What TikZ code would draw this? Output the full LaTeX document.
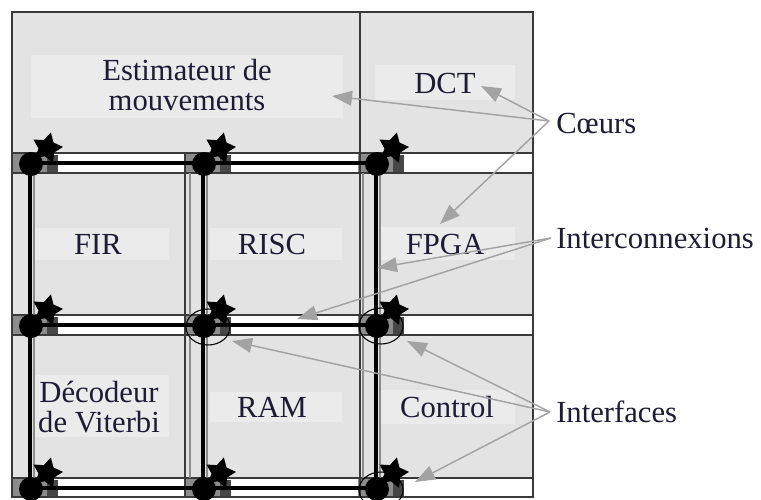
\documentclass[tikz,border=0pt]{standalone}
\usepackage{fontspec}
\setmainfont{Liberation Serif}
\usetikzlibrary{arrows.meta,calc}

\definecolor{cellgray}{HTML}{E3E3E3}
\definecolor{tagfill}{HTML}{EBEBEB}
\definecolor{pad}{HTML}{8C8C8C}
\definecolor{paddark}{HTML}{474747}
\definecolor{arrowgray}{HTML}{A3A3A3}
\definecolor{rule}{HTML}{3A3A3A}
\definecolor{ink}{HTML}{1C1C34}

\begin{document}
\begin{tikzpicture}[x=0.75pt,y=-0.75pt,
  thinln/.style={draw=rule, line width=1.1pt},
  faintln/.style={draw=black!45, line width=0.8pt},
  bus/.style={draw=black, line width=2.9pt},
  lbl/.style={font=\fontsize{23}{22}\selectfont, text=ink, inner sep=0pt},
  tagbox/.style={fill=tagfill, draw=none},
  pointer/.style={draw=arrowgray, line width=1.1pt, -{Triangle[length=15pt,width=11pt]}},
  halo/.style={draw=black, line width=0.8pt},
]
\useasboundingbox (0,0) rectangle (761,500);

% chip area and routing channels
\fill[cellgray] (12,12) rectangle (533,497);
\foreach \y in {163,325,488} {
  \fill[white] (12,\y-10) rectangle (533,\y+10);
}

% light label backgrounds of the cores
\fill[tagbox] (31,55) rectangle (343,118);
\fill[tagbox] (375,65) rectangle (515,100);
\fill[tagbox] (35,228) rectangle (169,260);
\fill[tagbox] (210,228) rectangle (342,260);
\fill[tagbox] (380,227) rectangle (515,260);
\fill[tagbox] (35,375) rectangle (169,437);
\fill[tagbox] (210,392) rectangle (342,422);
\fill[tagbox] (380,390) rectangle (515,424);

% interface points of the mesh
\foreach \c/\x in {1/30,2/203,3/376} {
  \foreach \r/\y in {1/163,2/325,3/488} {
    \coordinate (n\r\c) at (\x,\y);
    \fill[pad] (\x-18,\y-10) rectangle (\x+17,\y+10);
    \fill[paddark] (\x+17,\y-8) rectangle (\x+28,\y+9);
  }
}

% cell outlines
\draw[thinln] (12,12) rectangle (533,497);
\foreach \y in {153,173,315,335,478} {
  \draw[thinln] (12,\y) -- (533,\y);
}
\draw[thinln] (185,153) -- (185,497);
\draw[thinln] (360,12) -- (360,497);
\foreach \x in {190,363} {
  \draw[faintln] (\x,173) -- (\x,315);
  \draw[faintln] (\x,335) -- (\x,478);
}
\foreach \x in {34,207,380} {
  \draw[faintln] (\x,173) -- (\x,315);
  \draw[faintln] (\x,335) -- (\x,478);
}

% interconnect wires
\foreach \r in {1,2,3} {
  \draw[bus] (n\r1) -- (n\r3);
}
\foreach \c in {1,2,3} {
  \draw[bus] (n1\c) -- (n3\c);
}

% interface symbols: a disc and a five-pointed star
\foreach \r in {1,2,3} {
  \foreach \c in {1,2,3} {
    \fill[black] ($(n\r\c)+(1,1)$) circle[radius=12];
    \coordinate (s\r\c) at ($(n\r\c)+(17,-15)$);
    \fill[black, shift={(s\r\c)}]
      plot[samples at={0,...,9}, variable=\k]
        ({(mod(\k,2)==0 ? 16 : 8.5)*cos(-90+36*\k+14)},
         {(mod(\k,2)==0 ? 16 : 8.5)*sin(-90+36*\k+14)}) -- cycle;
  }
}

% highlighted interfaces
\draw[halo] ($(n22)+(5,2)$) ellipse[x radius=22, y radius=18];
\draw[halo] ($(n23)+(5,1)$) ellipse[x radius=22, y radius=18];
\draw[halo] ($(n33)+(5,2)$) ellipse[x radius=22, y radius=18];

% core names
\node[lbl, align=center] (est) at (187,85) {Estimateur de\\mouvements};
\node[lbl] (dct) at (445,83) {DCT};
\node[lbl] (fir) at (98,244) {FIR};
\node[lbl] (risc) at (272,244) {RISC};
\node[lbl] (fpga) at (445,244) {FPGA};
\node[lbl, align=center] (vit) at (99,407) {Décodeur\\de Viterbi};
\node[lbl] (ram) at (272,407) {RAM};
\node[lbl] (ctl) at (447,407) {Control};

% legend
\node[lbl, anchor=west] (coeurs) at (556,123) {Cœurs};
\node[lbl, anchor=west] (inter) at (556,238) {Interconnexions};
\node[lbl, anchor=west] (ifc) at (556,412) {Interfaces};

\coordinate (cfrom) at ($(coeurs.west)+(-7,-2)$);
\coordinate (ifrom) at ($(inter.west)+(-5,0)$);
\coordinate (ffrom) at ($(ifc.west)+(-6,0)$);

\coordinate (tEst) at (332,96);
\coordinate (tDct) at (481,86);
\coordinate (tFpga) at (440,224);
\coordinate (tVbus) at (377,268);
\coordinate (tHbus) at (297,319);
\coordinate (tI22) at (232,341);
\coordinate (tI23) at (407,341);
\coordinate (tI33) at (415,482);

\draw[pointer] (cfrom) -- (tEst);
\draw[pointer] (cfrom) -- (tDct);
\draw[pointer] (cfrom) -- (tFpga);
\draw[pointer] (ifrom) -- (tVbus);
\draw[pointer] (ifrom) -- (tHbus);
\draw[pointer] (ffrom) -- (tI22);
\draw[pointer] (ffrom) -- (tI23);
\draw[pointer] (ffrom) -- (tI33);
\end{tikzpicture}
\end{document}
